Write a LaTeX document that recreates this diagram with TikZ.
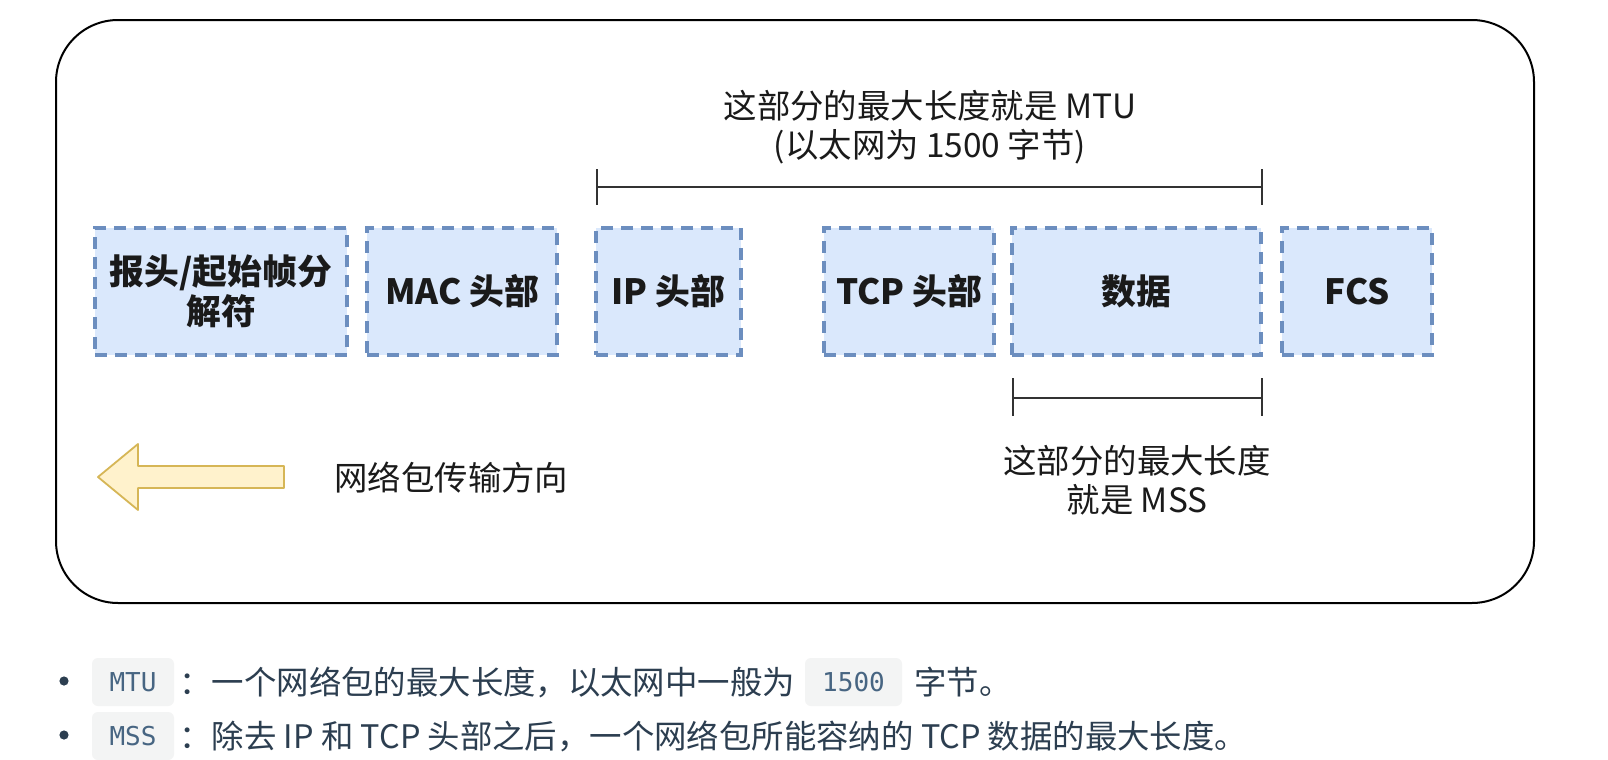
\documentclass[tikz,border=0pt]{standalone}
\usepackage{fontspec}
\setmainfont{Noto Sans CJK SC}
\setmonofont{DejaVu Sans Mono}
\begin{document}
\begin{tikzpicture}[x=0.5pt,y=-0.5pt,
  seg/.style={draw=segline, fill=segfill, line width=1.8pt, dash pattern=on 6pt off 4pt,
    inner sep=0pt, font=\fontsize{17.4}{20}\selectfont\bfseries, text=txt, align=center},
  bracket/.style={draw=brk, line width=0.8pt},
  lbl/.style={font=\fontsize{16.7}{19.5}\selectfont, text=txt, align=center, inner sep=0pt},
  btxt/.style={font=\fontsize{16.2}{19}\selectfont, text=btext, inner sep=0pt, anchor=west},
  code/.style={fill=codebg, rounded corners=3pt, text=codetext, inner sep=0pt,
    font=\ttfamily\fontsize{13}{15}\selectfont, minimum height=24pt}]
\definecolor{segline}{HTML}{6C8EBF}
\definecolor{segfill}{HTML}{DAE8FC}
\definecolor{txt}{HTML}{1A1A1A}
\definecolor{brk}{HTML}{333333}
\definecolor{btext}{HTML}{2C3E50}
\definecolor{codebg}{HTML}{F3F4F4}
\definecolor{codetext}{HTML}{476582}
\definecolor{arrfill}{HTML}{FFF2CC}
\definecolor{arrline}{HTML}{D6B656}
\useasboundingbox (0,0) rectangle (1608,760);
\fill[white] (0,0) rectangle (1608,760);
% outer frame
\draw[line width=1pt, rounded corners=31pt] (56,20) rectangle (1534,603);
% segments
\node[seg, minimum width=126pt, minimum height=63.5pt] (hdr) at (221,291.5) {报头/起始帧分\\解符};
\node[seg, minimum width=95pt, minimum height=63.5pt] (mac) at (462,291.5) {MAC 头部};
\node[seg, minimum width=72.5pt, minimum height=63.5pt] (ip) at (668.5,291.5) {IP 头部};
\node[seg, minimum width=85pt, minimum height=63.5pt] (tcp) at (909,291.5) {TCP 头部};
\node[seg, minimum width=124.5pt, minimum height=63.5pt] (data) at (1136.5,291.5) {数据};
\node[seg, minimum width=75pt, minimum height=63.5pt] (fcs) at (1357,291.5) {FCS};
% MTU bracket
\coordinate (mtuL) at (597,187);
\coordinate (mtuR) at (1262,187);
\coordinate (mtuLt) at (597,169);
\coordinate (mtuLb) at (597,205);
\coordinate (mtuRt) at (1262,169);
\coordinate (mtuRb) at (1262,205);
\draw[bracket] (mtuL) -- (mtuR);
\draw[bracket] (mtuLt) -- (mtuLb);
\draw[bracket] (mtuRt) -- (mtuRb);
\node[lbl] (mtutxt) at (930,127) {这部分的最大长度就是 MTU\\(以太网为 1500 字节)};
% MSS bracket
\coordinate (mssL) at (1013,398);
\coordinate (mssR) at (1262,398);
\coordinate (mssLt) at (1013,378);
\coordinate (mssLb) at (1013,416);
\coordinate (mssRt) at (1262,378);
\coordinate (mssRb) at (1262,416);
\draw[bracket] (mssL) -- (mssR);
\draw[bracket] (mssLt) -- (mssLb);
\draw[bracket] (mssRt) -- (mssRb);
\node[lbl] (msstxt) at (1137,480) {这部分的最大长度\\就是 MSS};
% direction arrow
\draw[fill=arrfill, draw=arrline, line width=0.9pt, line join=round]
  (98,477) -- (138,444) -- (138,466) -- (284,466) -- (284,488) -- (138,488) -- (138,510) -- cycle;
\node[lbl, anchor=west] (dir) at (334,478) {网络包传输方向};
% bullets
\fill[btext] (64,681) circle[radius=2.3pt];
\fill[btext] (64,735) circle[radius=2.3pt];
\node[code, minimum width=41pt] (c1) at (133,682) {MTU};
\node[btxt] (t1) at (179,682) {：一个网络包的最大长度，以太网中一般为};
\node[code, minimum width=48.5pt] (c2) at (853.5,682) {1500};
\node[btxt] (t2) at (914,682) {字节。};
\node[code, minimum width=41pt] (c3) at (133,736) {MSS};
\node[btxt] (t3) at (179,736) {：除去 IP 和 TCP 头部之后，一个网络包所能容纳的 TCP 数据的最大长度。};
\end{tikzpicture}
\end{document}
